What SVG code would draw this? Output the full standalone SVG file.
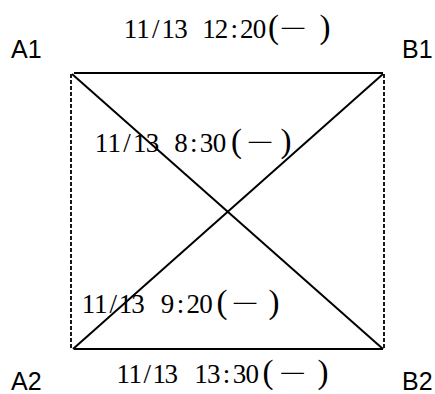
<svg xmlns="http://www.w3.org/2000/svg" width="435" height="394" viewBox="0 0 435 394">
<style>
.solid{stroke:#000;stroke-width:2;fill:none}
.dash{stroke:#000;stroke-width:1.8;stroke-dasharray:4 2;fill:none}
.lbl{font-family:"Liberation Sans",Arial,sans-serif;font-size:25px;fill:#000}
.t{font-family:"Liberation Serif","Times New Roman",serif;font-size:27px;fill:#000;text-anchor:middle}
.p{font-size:33px;font-weight:normal}
.k{font-family:"Noto Sans CJK SC",sans-serif;font-size:25px;font-weight:300}
</style>
<rect width="435" height="394" fill="#fff"/>
<g id="connectors">
<line class="solid" x1="74" y1="73" x2="383" y2="73"/>
<line class="solid" x1="74" y1="349" x2="383" y2="349"/>
<line class="dash" x1="71" y1="74" x2="71" y2="349"/>
<line class="dash" x1="384" y1="74" x2="384" y2="349"/>
<line class="solid" x1="72" y1="74" x2="383" y2="349"/>
<line class="solid" x1="383" y1="74" x2="73" y2="349"/>
</g>
<g id="A1"><text class="lbl" x="11" y="58">A1</text></g>
<g id="B1"><text class="lbl" x="402" y="58">B1</text></g>
<g id="A2"><text class="lbl" x="11" y="390">A2</text></g>
<g id="B2"><text class="lbl" x="402" y="390">B2</text></g>
<g id="label-top"><text class="t" y="38"><tspan x="130.5 143.1 155.7 168.3 180.9">11/13</tspan><tspan x="209 221.6 234.2 246.8 259.4">12:20</tspan><tspan class="p" x="273.5">(</tspan><tspan class="k" x="293">一</tspan><tspan class="p" x="325">)</tspan></text></g>
<g id="label-diag1"><text class="t" y="152"><tspan x="101.4 114.2 127 139.8 152.6">11/13</tspan><tspan x="181 193.8 206.6 219.4">8:30</tspan><tspan class="p" x="236.5">(</tspan><tspan class="k" x="260">一</tspan><tspan class="p" x="286">)</tspan></text></g>
<g id="label-diag2"><text class="t" y="313"><tspan x="88.5 100.8 113.2 125.5 137.9">11/13</tspan><tspan x="167.6 180.4 193.2 206">9:20</tspan><tspan class="p" x="222">(</tspan><tspan class="k" x="245">一</tspan><tspan class="p" x="274">)</tspan></text></g>
<g id="label-bottom"><text class="t" y="383"><tspan x="123.3 135.3 147.3 159.3 171.3">11/13</tspan><tspan x="201 213.8 226.6 239.4 252.2">13:30</tspan><tspan class="p" x="268">(</tspan><tspan class="k" x="292.5">一</tspan><tspan class="p" x="323">)</tspan></text></g>
</svg>
